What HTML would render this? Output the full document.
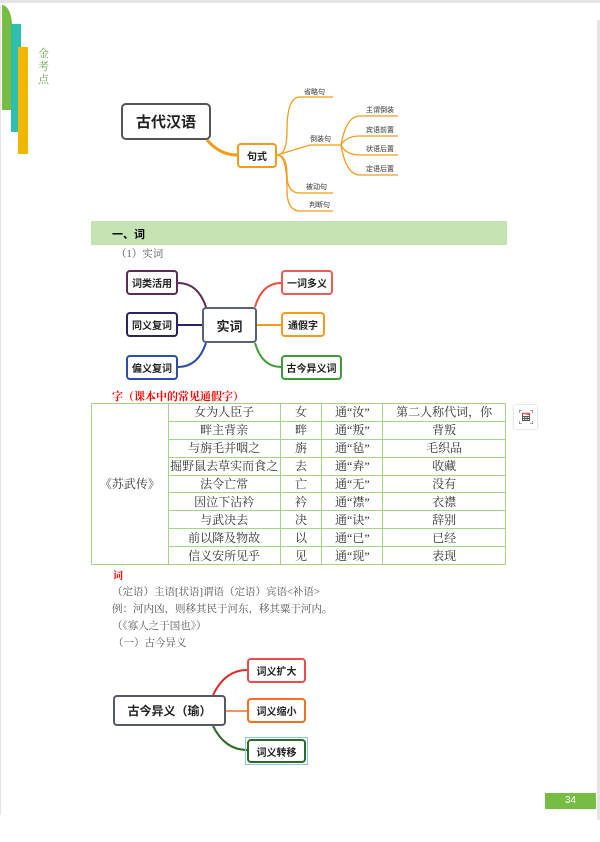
<!DOCTYPE html>
<html><head><meta charset="utf-8"><style>
body{margin:0;width:600px;height:842px;background:#fff;position:relative;overflow:hidden;font-family:"Liberation Serif","Noto Serif CJK SC",serif;}
.a{position:absolute}
.box{position:absolute;box-sizing:border-box;border:2px solid;border-radius:4px;background:#fff;display:flex;align-items:center;justify-content:center;font-family:"Liberation Sans","Noto Sans CJK SC",sans-serif;font-weight:bold;font-size:10px;color:#222}
.s{font-family:"Liberation Sans","Noto Sans CJK SC",sans-serif;font-size:7px;color:#333;position:absolute}
table{position:absolute;left:91px;top:403px;width:415px;height:162px;border-collapse:collapse;font-size:12px;color:#333}
td{border:1.5px solid #a6d38a;padding:0;text-align:center;line-height:16px}
.t{position:absolute;left:112px;font-size:10.5px;color:#555}
</style></head><body>
<div class="a" style="left:0;top:0;width:600px;height:3px;background:#e4e4e4"></div>
<div class="a" style="left:597px;top:20px;width:3px;height:800px;background:#e4e4e4"></div>
<div class="a" style="left:0;top:5px;width:1px;height:810px;background:#e4e4e4"></div>
<div class="a" style="left:2px;top:5px;width:10px;height:105px;background:#76bd43;border-top-right-radius:10px 20px"></div>
<div class="a" style="left:11px;top:24px;width:10px;height:108px;background:#2fbfb0"></div>
<div class="a" style="left:18px;top:47px;width:10px;height:107px;background:#f2b700"></div>
<div class="a" style="left:38px;top:48px;width:12px;font-size:11px;line-height:13px;color:#6aa84f">金<br>考<br>点</div>

<svg class="a" style="left:0;top:0" width="600" height="842">
<g fill="none" stroke="#f39c1a" stroke-width="1.3">
<path d="M207 140 Q220 155 237 155" stroke-width="3"/>
<path d="M277 155 Q287 155 287 130 Q287 97 300 97 L333 97"/>
<path d="M277 155 L310 145 L341 145"/>
<path d="M277 155 Q287 155 287 175 Q287 193 300 193 L333 193"/>
<path d="M277 155 Q287 155 287 190 Q287 211 300 211 L333 211"/>
<path d="M341 145 Q346 116 360 116 L398 116"/>
<path d="M341 145 Q346 136 360 136 L398 136"/>
<path d="M341 145 Q346 155 360 155 L398 155"/>
<path d="M341 145 Q346 175 360 175 L398 175"/>
</g>
<g fill="none">
<path d="M178 283 Q198 283 206 307" stroke="#5b2c58" stroke-width="2"/>
<path d="M178 325 L202 325" stroke="#2c2460" stroke-width="2"/>
<path d="M178 367 Q198 367 206 343" stroke="#2d4ea8" stroke-width="2"/>
<path d="M281 283 Q262 283 255 307" stroke="#ef4b3c" stroke-width="2"/>
<path d="M257 325 L281 325" stroke="#f39c1a" stroke-width="2"/>
<path d="M281 367 Q262 367 255 343" stroke="#3f9a3a" stroke-width="2"/>
<path d="M247 670 Q225 670 213 695" stroke="#e6261f" stroke-width="2"/>
<path d="M226 711 L247 711" stroke="#f2711e" stroke-width="1.5"/>
<path d="M247 750 Q225 750 213 726" stroke="#2a6a25" stroke-width="2"/>
</g>
</svg>

<div class="box" style="left:121px;top:103px;width:90px;height:37px;border-color:#555;border-radius:5px;font-size:15px">古代汉语</div>
<div class="box" style="left:237px;top:143px;width:40px;height:25px;border-color:#f39c1a;font-size:10px">句式</div>
<div class="s" style="left:304px;top:87px">省略句</div>
<div class="s" style="left:310px;top:134px">倒装句</div>
<div class="s" style="left:366px;top:105px">主谓倒装</div>
<div class="s" style="left:366px;top:125px">宾语前置</div>
<div class="s" style="left:366px;top:144px">状语后置</div>
<div class="s" style="left:366px;top:164px">定语后置</div>
<div class="s" style="left:306px;top:182px">被动句</div>
<div class="s" style="left:309px;top:200px">判断句</div>

<div class="a" style="left:91px;top:221px;width:416px;height:24px;background:#c6e3b4"></div>
<div class="a" style="left:112px;top:226px;font-size:11px;font-weight:bold;font-family:'Liberation Sans','Noto Sans CJK SC',sans-serif">一、词</div>
<div class="t" style="left:116px;top:246px">（1）实词</div>

<div class="box" style="left:202px;top:307px;width:55px;height:36px;border-color:#5a6170;font-size:13px">实词</div>
<div class="box" style="left:126px;top:270px;width:52px;height:25px;border-color:#5b2c58">词类活用</div>
<div class="box" style="left:126px;top:312px;width:52px;height:25px;border-color:#2c2460">同义复词</div>
<div class="box" style="left:126px;top:355px;width:52px;height:25px;border-color:#2d4ea8">偏义复词</div>
<div class="box" style="left:281px;top:270px;width:52px;height:25px;border-color:#ef5b55">一词多义</div>
<div class="box" style="left:281px;top:312px;width:44px;height:25px;border-color:#f39c1a">通假字</div>
<div class="box" style="left:281px;top:355px;width:61px;height:25px;border-color:#3f9a3a">古今异义词</div>

<div class="a" style="left:112px;top:388px;font-size:11px;font-weight:bold;color:#f00">字（课本中的常见通假字）</div>
<table>
<colgroup><col style="width:77px"><col style="width:112px"><col style="width:42px"><col style="width:61px"><col style="width:123px"></colgroup>
<tr><td rowspan="9">《苏武传》</td><td>女为人臣子</td><td>女</td><td>通“汝”</td><td>第二人称代词，你</td></tr>
<tr><td>畔主背亲</td><td>畔</td><td>通“叛”</td><td>背叛</td></tr>
<tr><td>与旃毛并咽之</td><td>旃</td><td>通“毡”</td><td>毛织品</td></tr>
<tr><td>掘野鼠去草实而食之</td><td>去</td><td>通“弆”</td><td>收藏</td></tr>
<tr><td>法令亡常</td><td>亡</td><td>通“无”</td><td>没有</td></tr>
<tr><td>因泣下沾衿</td><td>衿</td><td>通“襟”</td><td>衣襟</td></tr>
<tr><td>与武决去</td><td>决</td><td>通“诀”</td><td>辞别</td></tr>
<tr><td>前以降及物故</td><td>以</td><td>通“已”</td><td>已经</td></tr>
<tr><td>信义安所见乎</td><td>见</td><td>通“现”</td><td>表现</td></tr>
</table>
<div class="a" style="left:514px;top:405px;width:23px;height:24px;background:#fff;box-shadow:0 0 2px #bbb"></div>
<svg class="a" style="left:519px;top:410px" width="14" height="14"><g fill="none" stroke="#555" stroke-width="1"><path d="M0 3V0H3M11 0H14V3M14 11V14H11M3 14H0V11"/><rect x="3.5" y="3.5" width="7" height="7"/><path d="M3.5 6.5H10.5M3.5 8.5H10.5M5.8 6.5V10.5M8.2 6.5V10.5"/></g><path d="M3.5 3.5H10.5V5" stroke="#e55" stroke-width="1.5"/></svg>

<div class="a" style="left:113px;top:567px;font-size:10px;font-weight:bold;color:#f00">词</div>
<div class="t" style="left:112px;top:584px">（定语）主语[状语]谓语（定语）宾语&lt;补语&gt;</div>
<div class="t" style="top:601px">例：河内凶，则移其民于河东，移其粟于河内。</div>
<div class="t" style="top:618px">（《寡人之于国也》）</div>
<div class="t" style="left:113px;top:635px">（一）古今异义</div>

<div class="box" style="left:113px;top:695px;width:113px;height:31px;border-color:#555a66;font-size:12px">古今异义（瑜）</div>
<div class="box" style="left:247px;top:658px;width:59px;height:25px;border-color:#ef4b4b">词义扩大</div>
<div class="box" style="left:247px;top:698px;width:59px;height:25px;border-color:#f2711e">词义缩小</div>
<div class="a" style="left:245px;top:737px;width:63px;height:28px;border:1px solid #8cc3f0;box-sizing:border-box"></div>
<div class="box" style="left:247px;top:739px;width:59px;height:24px;border-color:#2a6a25">词义转移</div>

<div class="a" style="left:545px;top:793px;width:51px;height:16px;background:#76bd43;color:#fff;font-family:'Liberation Sans',sans-serif;font-size:10px;text-align:center;line-height:16px">34</div>
</body></html>
